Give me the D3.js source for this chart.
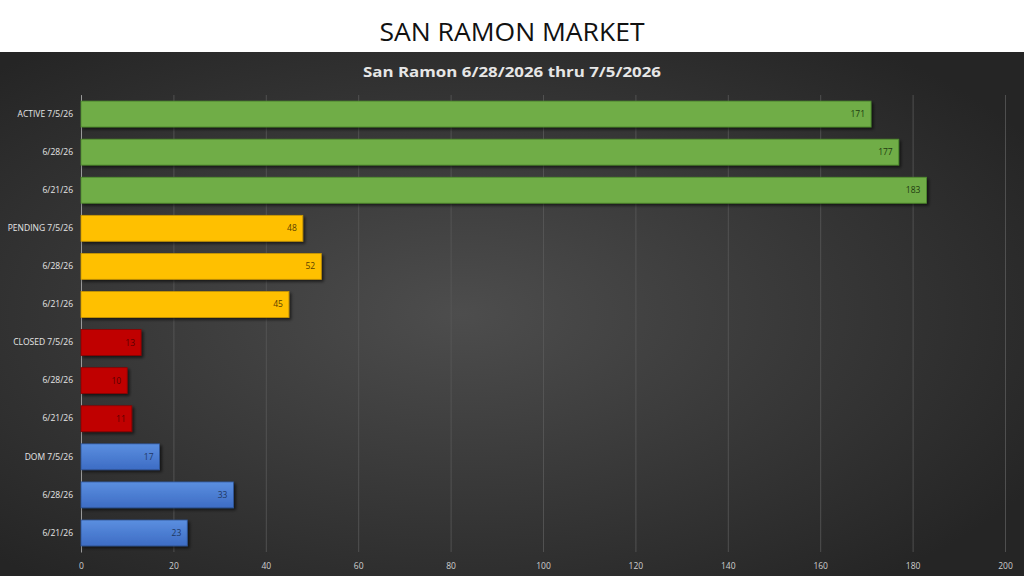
<!DOCTYPE html>
<html><head><meta charset="utf-8">
<script src="https://cdn.jsdelivr.net/npm/d3@7/dist/d3.min.js"></script>
<style>html,body{margin:0;padding:0;background:#fff;}svg{display:block;}</style>
</head><body>
<script>
const categories = ["ACTIVE 7/5/26","6/28/26","6/21/26","PENDING 7/5/26","6/28/26","6/21/26","CLOSED 7/5/26","6/28/26","6/21/26","DOM 7/5/26","6/28/26","6/21/26"];
const groups = ["active","active","active","pending","pending","pending","closed","closed","closed","dom","dom","dom"];
const values = [171,177,183,48,52,45,13,10,11,17,33,23];
const xTicks = [0,20,40,60,80,100,120,140,160,180,200];
const mainTitle = "SAN RAMON MARKET";
const chartTitle = "San Ramon 6/28/2026 thru 7/5/2026";

const fills = {active:"#70ad47", pending:"#ffc000", closed:"#c00000", dom:"url(#gBlue)"};
const strokes = {active:"#4e8a2e", pending:"#c99600", closed:"#8a0000", dom:"#2f5597"};
const labelCols = {active:"#1e3a10", pending:"#5a4000", closed:"#5a0000", dom:"#1f3864"};

const W=1024,H=576;
const svg=d3.select("body").append("svg").attr("width",W).attr("height",H);
const defs=svg.append("defs");
const rg=defs.append("radialGradient").attr("id","bg").attr("cx","45%").attr("cy","50%").attr("r","65%");
rg.append("stop").attr("offset","0%").attr("stop-color","#4d4d4d");
rg.append("stop").attr("offset","100%").attr("stop-color","#252525");
const bl=defs.append("linearGradient").attr("id","gBlue").attr("x1",0).attr("y1",0).attr("x2",0).attr("y2",1);
bl.append("stop").attr("offset","0%").attr("stop-color","#5b8fe0");
bl.append("stop").attr("offset","100%").attr("stop-color","#3d6cc4");
const f=defs.append("filter").attr("id","sh").attr("x","-5%").attr("y","-20%").attr("width","115%").attr("height","160%");
f.append("feDropShadow").attr("dx",2).attr("dy",2).attr("stdDeviation",1.5).attr("flood-color","#000").attr("flood-opacity",0.6);

svg.append("rect").attr("x",0).attr("y",0).attr("width",W).attr("height",52).attr("fill","#fff");
svg.append("text").attr("x",512).attr("y",41).attr("text-anchor","middle")
  .attr("font-family","'Open Sans', sans-serif").attr("font-size",26).attr("fill","#111")
  .attr("textLength",265).attr("lengthAdjust","spacingAndGlyphs").text(mainTitle);
svg.append("rect").attr("x",0).attr("y",52).attr("width",W).attr("height",H-52).attr("fill","url(#bg)");
svg.append("text").attr("x",512).attr("y",77).attr("text-anchor","middle")
  .attr("font-family","'Open Sans', sans-serif").attr("font-weight","bold").attr("font-size",14).attr("fill","#e6e6e6")
  .attr("textLength",298).attr("lengthAdjust","spacingAndGlyphs").text(chartTitle);

const x=d3.scaleLinear().domain([0,200]).range([81,1005]);
const y=d3.scaleBand().domain(d3.range(categories.length)).range([95,552]).paddingInner(0.32).paddingOuter(0.16);

const gx=svg.append("g").attr("transform","translate(0,552)")
  .call(d3.axisBottom(x).tickValues(xTicks).tickSize(-457).tickPadding(11));
gx.select(".domain").remove();
gx.selectAll(".tick line").attr("stroke","#595959").attr("stroke-width",0.8);
gx.selectAll(".tick text").attr("fill","#cfcfcf").attr("font-size",8.5).attr("font-family","'Open Sans', sans-serif");
gx.selectAll(".tick").filter(d=>d===0).select("line").attr("stroke","#9a9a9a");

const gy=svg.append("g").attr("transform","translate(81,0)")
  .call(d3.axisLeft(y).tickFormat(i=>categories[i]).tickSize(0).tickPadding(8));
gy.select(".domain").attr("stroke","#9a9a9a");
gy.selectAll(".tick text").attr("fill","#e6e6e6").attr("font-size",8.5).attr("font-family","'Open Sans', sans-serif");

svg.append("g").selectAll("rect").data(values).join("rect")
  .attr("x",x(0)).attr("y",(d,i)=>y(i)).attr("width",d=>x(d)-x(0)).attr("height",y.bandwidth())
  .attr("fill",(d,i)=>fills[groups[i]]).attr("stroke",(d,i)=>strokes[groups[i]]).attr("stroke-width",0.8)
  .attr("filter","url(#sh)");

svg.append("g").selectAll("text").data(values).join("text")
  .attr("x",d=>x(d)-6).attr("y",(d,i)=>y(i)+y.bandwidth()/2).attr("dy","0.35em")
  .attr("text-anchor","end").attr("font-size",8.5).attr("font-family","'Open Sans', sans-serif")
  .attr("fill",(d,i)=>labelCols[groups[i]]).text(d=>d);
</script>
</body></html>
